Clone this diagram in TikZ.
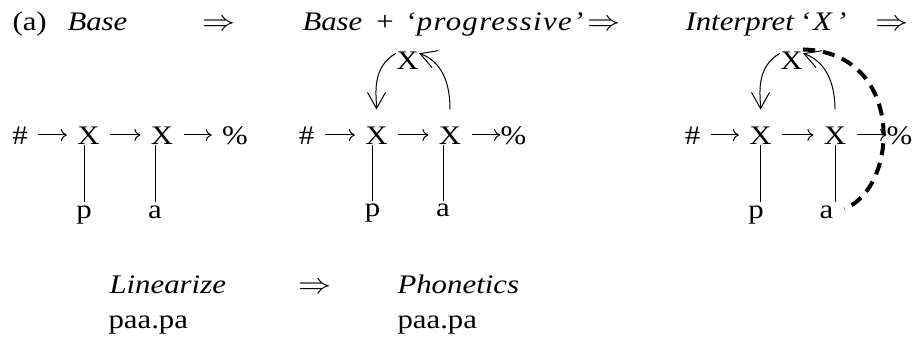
\documentclass[tikz,border=0pt]{standalone}
\usepackage{fontspec}
\usepackage{graphicx}
\setmainfont{Liberation Serif}[FakeStretch=1.15]
\usetikzlibrary{arrows.meta}
\tikzset{
 sym/.style={inner sep=0pt,anchor=base,text height=10pt,text depth=0pt},
 lab/.style={inner sep=0pt,anchor=base west},
 seg/.style={inner sep=1.5pt,anchor=base},
 lnk/.style={-{To[length=3pt,width=6pt]},shorten <=5pt,shorten >=5pt},
 bnd/.style={-{Straight Barb[length=8pt,width=9pt]}},
 dsh/.style={line width=2pt,dash pattern=on 6pt off 4pt}
}
\newcommand{\imp}{\scalebox{1.15}[1]{$\Rightarrow$}}
\newcommand{\spread}[1]{{\addfontfeature{LetterSpace=5}#1}}
\begin{document}
\begin{tikzpicture}[x=0.5pt,y=0.5pt,line width=0.5pt,font=\fontsize{13.4}{16}\selectfont]
\useasboundingbox (0,0) rectangle (913,337);
\node[lab] (lbl) at (12,306) {(a)};\node[lab] (st1) at (67,306) {\itshape Base};\node[sym] (im1) at (219.5,306) {\imp};
\node[lab] (st2) at (302,306) {\itshape Base\hspace{6pt}+\hspace{5pt}\spread{‘progressive’}};\node[sym] (im2) at (604,306) {\imp};
\node[lab] (st3) at (685,306) {\itshape Interpret\hspace{3pt}\spread{‘\kern1.5pt X\kern2pt’}};\node[sym] (im3) at (892,306) {\imp};
\node[sym] (h1) at (20,192) {\#};\node[sym] (a1) at (88.5,192) {X};\node[sym] (b1) at (162,192) {X};\node[sym] (e1) at (235,192) {\%};
\draw[lnk] (h1) -- (a1);\draw[lnk] (a1) -- (b1);\draw[lnk] (b1) -- (e1);
\node[seg] (p1) at (84,119) {p};\node[seg] (s1) at (155,119) {a};
\draw (p1.north) -- (p1.north |- a1.base);\draw (s1.north) -- (s1.north |- b1.base);
\node[sym] (h2) at (306.5,192) {\#};\node[sym] (a2) at (376.5,192) {X};\node[sym] (b2) at (450,192) {X};\node[sym] (e2) at (513.5,192) {\%};
\draw[lnk] (h2) -- (a2);\draw[lnk] (a2) -- (b2);\draw[lnk,shorten >=0pt] (b2) -- (e2);
\node[seg] (p2) at (372.5,120) {p};\node[seg] (s2) at (443,120) {a};
\draw (p2.north) -- (p2.north |- a2.base);\draw (s2.north) -- (s2.north |- b2.base);
\node[sym] (t2) at (407.5,267) {X};
\draw[bnd,shorten >=7.5pt] (t2.150) to[out=210,in=90] (a2.north);\draw[bnd,shorten <=7.5pt] (b2.north) to[out=90,in=-20] (t2.30);
\node[sym] (h3) at (692.5,192) {\#};\node[sym] (a3) at (760.5,192) {X};\node[sym] (b3) at (835,192) {X};\node[sym] (e3) at (899.5,192) {\%};
\draw[lnk] (h3) -- (a3);\draw[lnk] (a3) -- (b3);\draw[lnk,shorten >=0pt] (b3) -- (e3);
\node[seg] (p3) at (756,119) {p};\node[seg] (s3) at (826.5,119) {a};
\draw (a3.base) -- (a3.base |- p3.north);\draw (b3.base) -- (b3.base |- s3.north);
\node[sym] (t3) at (791.5,267) {X};
\draw[bnd,shorten >=7.5pt] (t3.150) to[out=210,in=90] (a3.north);\draw[bnd,shorten <=7.5pt] (b3.north) to[out=90,in=-20] (t3.30);
\draw[dsh,shorten >=4pt] (t3.north east) .. controls (905,285) and (900,150) .. (s3.east);
\node[lab] (st4) at (109,44) {\itshape Linearize};\node[sym] (im4) at (315.5,44) {\imp};\node[lab] (st5) at (397,44) {\itshape Phonetics};
\node[lab] (out4) at (108,9) {paa.pa};\node[lab] (out5) at (397,9) {paa.pa};
\end{tikzpicture}
\end{document}
